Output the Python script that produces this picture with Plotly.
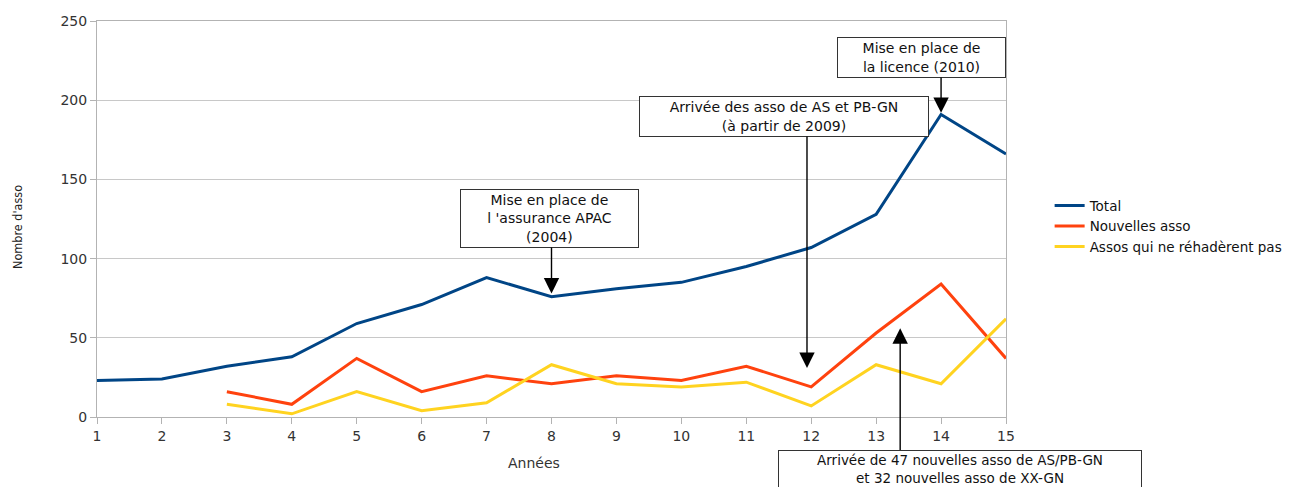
import plotly.graph_objects as go

years = list(range(1, 16))
total = [23, 24, 32, 38, 59, 71, 88, 76, 81, 85, 95, 107, 128, 191, 166]
nouvelles = [None, None, 16, 8, 37, 16, 26, 21, 26, 23, 32, 19, 53, 84, 37]
non_readh = [None, None, 8, 2, 16, 4, 9, 33, 21, 19, 22, 7, 33, 21, 62]

series_names = ["Total", "Nouvelles asso", "Assos qui ne réhadèrent pas"]
series_colors = ["#004586", "#ff420e", "#ffd320"]

FONT = "DejaVu Sans"
fig = go.Figure()
for name, vals, col in zip(series_names, [total, nouvelles, non_readh], series_colors):
    fig.add_trace(go.Scatter(x=years, y=vals, name=name, mode="lines",
                             line=dict(color=col, width=3), connectgaps=False))

def box(text, x, y, w, h, xref="x", yref="y", size=14):
    fig.add_annotation(text=text, x=x, y=y, xref=xref, yref=yref, showarrow=False,
                       xanchor="center", yanchor="middle",
                       width=w, height=h, bordercolor="#333333", borderwidth=1,
                       bgcolor="white", font=dict(family=FONT, size=size, color="#111111"),
                       align="center")

def arrow(x, y, ax, ay):
    fig.add_annotation(text="", x=x, y=y, ax=ax, ay=ay, xref="x", yref="y",
                       axref="x", ayref="y", showarrow=True, arrowhead=2,
                       arrowsize=2.2, arrowwidth=1.4, arrowcolor="#000000", standoff=0)

# Box 1
box("Mise en place de<br>l 'assurance APAC<br>(2004)", 7.97, 125.6, 175, 55)
arrow(8.0, 78, 8.0, 108)
# Box 2
box("Arrivée des asso de AS et PB-GN<br>(à partir de 2009)", 11.58, 189.7, 286, 37)
arrow(11.935, 31, 11.935, 178)
# Box 3
box("Mise en place de<br>la licence (2010)", 13.70, 227, 165, 37)
arrow(14.0, 192, 14.0, 215.3)
# Box 4 (below plot)
arrow(13.37, 56, 13.37, -22)
box("Arrivée de 47 nouvelles asso de AS/PB-GN<br>et 32 nouvelles asso de XX-GN",
    0.9494, -0.1313, 360, 34, xref="paper", yref="paper", size=13.5)

# Axis titles
fig.add_annotation(text="Nombre d'asso", x=-0.0869, y=0.48, xref="paper", yref="paper",
                   showarrow=False, textangle=-90, xanchor="center", yanchor="middle",
                   font=dict(family="DejaVu Sans Condensed, Liberation Sans", size=12.5,
                             color="#222222"))
fig.add_annotation(text="Années", x=0.481, y=-0.116, xref="paper", yref="paper",
                   showarrow=False, xanchor="center", yanchor="middle",
                   font=dict(family=FONT, size=14, color="#333333"))

fig.update_layout(
    width=1295, height=479,
    margin=dict(l=89, r=297, t=13, b=70, autoexpand=False),
    plot_bgcolor="white", paper_bgcolor="white",
    font=dict(family=FONT, size=12, color="#333333"),
    showlegend=True,
    legend=dict(x=1.048, y=0.482, xanchor="left", yanchor="middle",
                font=dict(family=FONT, size=13.5, color="#111111"),
                itemwidth=30, tracegroupgap=0, bgcolor="rgba(0,0,0,0)"),
)
fig.update_xaxes(range=[1, 15], tickmode="array", tickvals=years, automargin=False,
                 showgrid=False, showline=True, linecolor="#b3b3b3", linewidth=1,
                 mirror=True, ticks="outside", ticklen=6, tickcolor="#b3b3b3",
                 tickfont=dict(family=FONT, size=14, color="#333333"), zeroline=False)
fig.update_yaxes(range=[0, 250], tickvals=[0, 50, 100, 150, 200, 250], automargin=False,
                 showgrid=True, gridcolor="#c8c8c8", showline=True, linecolor="#b3b3b3",
                 linewidth=1, mirror=True, ticks="outside", ticklen=6, tickcolor="#b3b3b3",
                 tickfont=dict(family=FONT, size=14, color="#333333"), zeroline=False)

fig.write_html("out.html")
